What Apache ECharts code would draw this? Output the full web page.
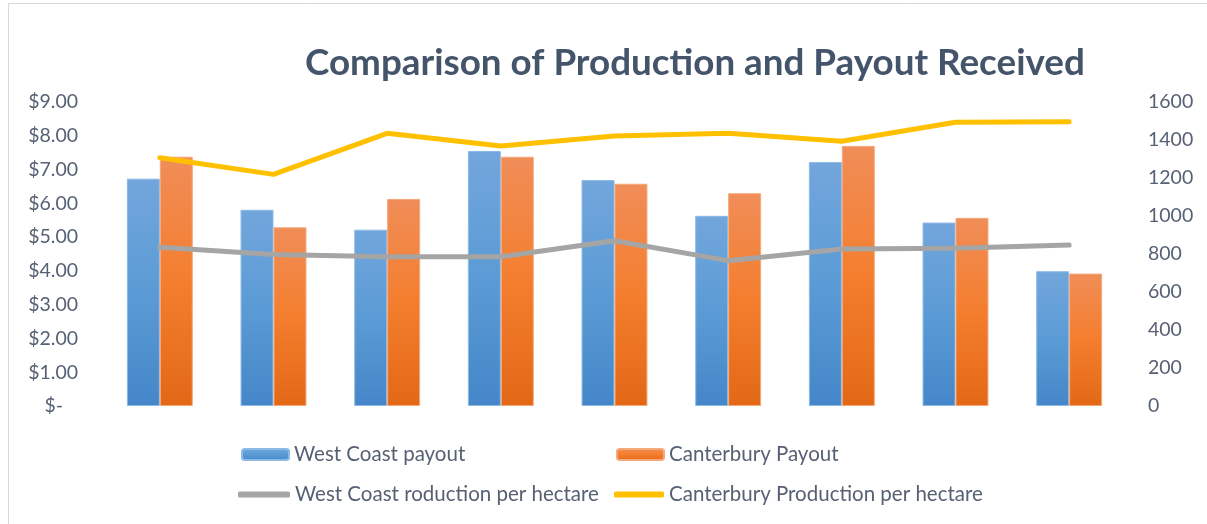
<!DOCTYPE html>
<html>
<head>
<meta charset="utf-8">
<script src="https://cdn.jsdelivr.net/npm/echarts@6/dist/echarts.min.js"></script>
<style>
html,body{margin:0;padding:0;background:#fff;}
#chart{width:1207px;height:524px;}
</style>
</head>
<body>
<div id="chart"></div>
<script>
const categories = ['1','2','3','4','5','6','7','8','9'];
const westCoastPayout = [6.73, 5.81, 5.22, 7.55, 6.69, 5.63, 7.22, 5.43, 3.99];
const canterburyPayout = [7.38, 5.29, 6.13, 7.38, 6.58, 6.30, 7.70, 5.57, 3.92];
const westCoastProduction = [835, 798, 786, 786, 870, 765, 826, 830, 847];
const canterburyProduction = [1307, 1219, 1435, 1368, 1421, 1435, 1393, 1493, 1496];
const leftTicks = [0, 1, 2, 3, 4, 5, 6, 7, 8, 9];
const rightTicks = [0, 200, 400, 600, 800, 1000, 1200, 1400, 1600];

const FONT = 'Lato';
const TXT = '#566174';

const chart = echarts.init(document.getElementById('chart'));

const blueGrad = new echarts.graphic.LinearGradient(0, 0, 0, 1, [
  {offset: 0, color: '#72a6dc'},
  {offset: 0.5, color: '#5b9bd5'},
  {offset: 1, color: '#4486c8'}
]);
const orangeGrad = new echarts.graphic.LinearGradient(0, 0, 0, 1, [
  {offset: 0, color: '#f08d58'},
  {offset: 0.5, color: '#f47e2e'},
  {offset: 1, color: '#e26816'}
]);

function legendAt(name, left, top, opts) {
  return Object.assign({
    data: [name], left: left, top: top, orient: 'horizontal',
    itemWidth: 47, itemHeight: 11, padding: 0,
    textStyle: {fontFamily: FONT, fontSize: 20.5, color: TXT},
    selectedMode: false
  }, opts || {});
}

chart.setOption({
  animation: false,
  backgroundColor: '#fff',
  graphic: [{
    type: 'rect', left: 6, top: 1, silent: true,
    shape: {width: 1199, height: 521},
    style: {fill: 'none', stroke: '#d9d9d9', lineWidth: 1}
  }],
  title: {
    text: 'Comparison of Production and Payout Received',
    left: 300, top: 40,
    textStyle: {fontFamily: FONT, fontWeight: 'bold', fontSize: 36.8, color: '#44546a'}
  },
  legend: [
    legendAt('West Coast payout', 241, 444),
    legendAt('Canterbury Payout', 616, 444),
    legendAt('West Coast roduction per hectare', 238, 484, {icon: 'roundRect', itemWidth: 52, itemHeight: 6}),
    legendAt('Canterbury Production per hectare', 614, 484, {icon: 'roundRect', itemWidth: 50, itemHeight: 6})
  ],
  grid: {left: 103, right: 81, top: 102, bottom: 118, containLabel: false},
  xAxis: {
    type: 'category', data: categories,
    axisLine: {show: false}, axisTick: {show: false}, axisLabel: {show: false}
  },
  yAxis: [{
    type: 'value', min: leftTicks[0], max: leftTicks[leftTicks.length - 1], interval: 1,
    splitLine: {show: false}, axisLine: {show: false}, axisTick: {show: false},
    axisLabel: {
      margin: 25, fontFamily: FONT, fontSize: 19.5, color: TXT,
      formatter: v => v === 0 ? '$-   ' : '$' + v.toFixed(2)
    }
  }, {
    type: 'value', min: rightTicks[0], max: rightTicks[rightTicks.length - 1], interval: 200,
    splitLine: {show: false}, axisLine: {show: false}, axisTick: {show: false},
    axisLabel: {margin: 22, fontFamily: FONT, fontSize: 19.5, color: TXT, formatter: v => String(v)}
  }],
  series: [{
    name: 'West Coast payout', type: 'bar', yAxisIndex: 0, data: westCoastPayout,
    barGap: '0%', barCategoryGap: '42%',
    itemStyle: {color: blueGrad, borderColor: '#8db9e6', borderWidth: 1},
    legendIcon: 'rect'
  }, {
    name: 'Canterbury Payout', type: 'bar', yAxisIndex: 0, data: canterburyPayout,
    barGap: '0%', barCategoryGap: '42%',
    itemStyle: {color: orangeGrad, borderColor: '#f5a87a', borderWidth: 1},
    legendIcon: 'rect'
  }, {
    name: 'West Coast roduction per hectare', type: 'line', yAxisIndex: 1, data: westCoastProduction,
    symbol: 'none', lineStyle: {color: '#a5a5a5', width: 5, cap: 'round', join: 'round'},
    itemStyle: {color: '#a5a5a5'}
  }, {
    name: 'Canterbury Production per hectare', type: 'line', yAxisIndex: 1, data: canterburyProduction,
    symbol: 'none', lineStyle: {color: '#ffc000', width: 5, cap: 'round', join: 'round'},
    itemStyle: {color: '#ffc000'}
  }]
});
</script>
</body>
</html>
